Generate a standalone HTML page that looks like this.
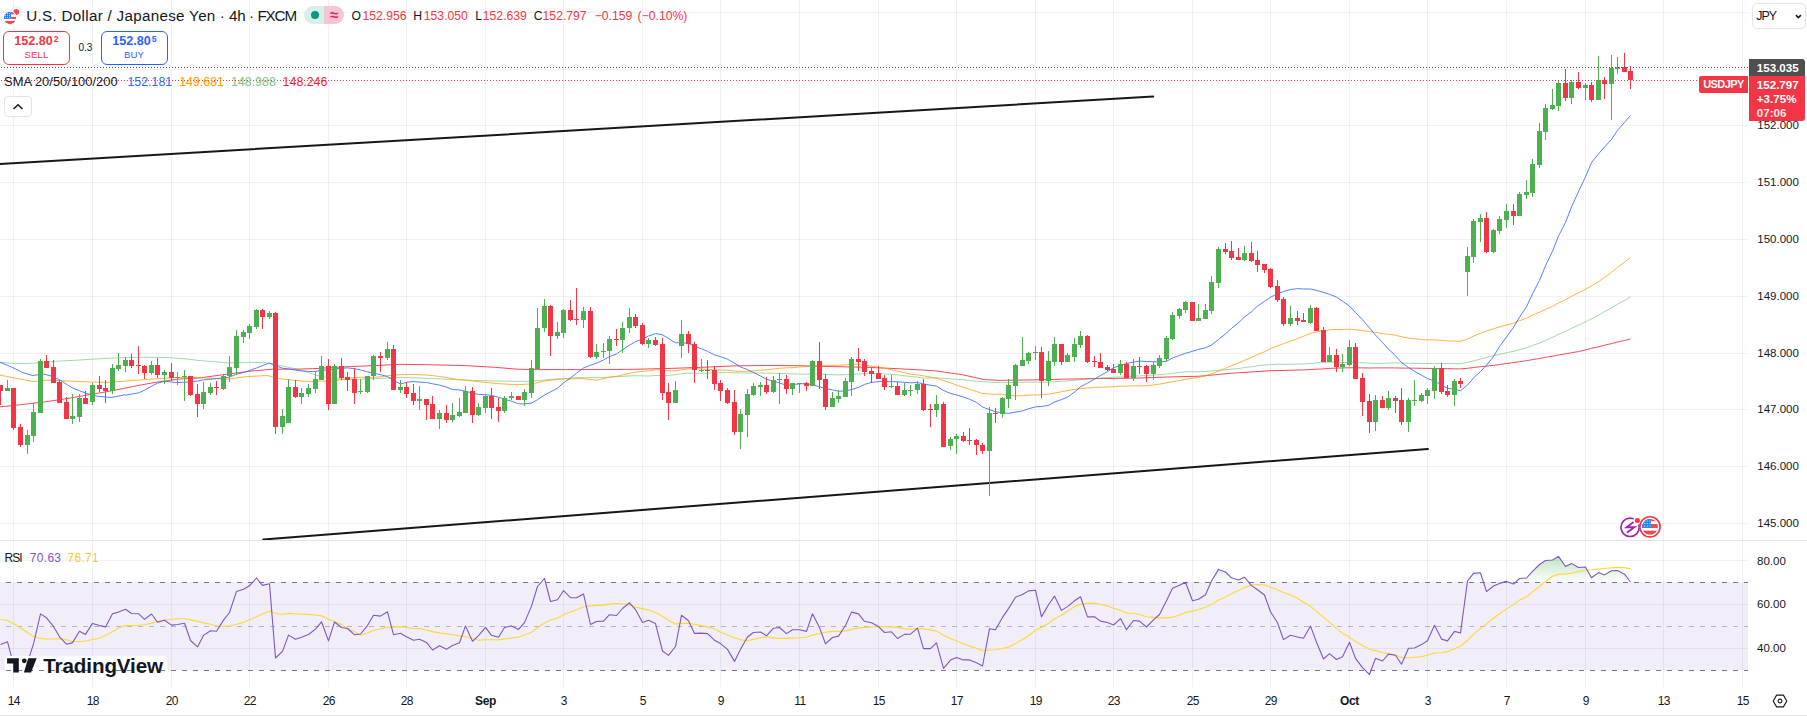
<!DOCTYPE html><html><head><meta charset="utf-8"><style>
*{margin:0;padding:0;box-sizing:border-box}
html,body{width:1807px;height:717px;overflow:hidden;background:#fff}
body{position:relative;font-family:"Liberation Sans",sans-serif;color:#131722}
.a{position:absolute;white-space:nowrap}
svg{position:absolute;left:0;top:0}

</style></head><body>
<svg width="1807" height="717" viewBox="0 0 1807 717">
<g shape-rendering="crispEdges" fill="#2a322e" fill-opacity="0.065">
<rect x="13" y="0" width="1" height="687"/>
<rect x="92" y="0" width="1" height="687"/>
<rect x="171" y="0" width="1" height="687"/>
<rect x="249" y="0" width="1" height="687"/>
<rect x="328" y="0" width="1" height="687"/>
<rect x="406" y="0" width="1" height="687"/>
<rect x="485" y="0" width="1" height="687"/>
<rect x="563" y="0" width="1" height="687"/>
<rect x="642" y="0" width="1" height="687"/>
<rect x="720" y="0" width="1" height="687"/>
<rect x="799" y="0" width="1" height="687"/>
<rect x="878" y="0" width="1" height="687"/>
<rect x="956" y="0" width="1" height="687"/>
<rect x="1035" y="0" width="1" height="687"/>
<rect x="1113" y="0" width="1" height="687"/>
<rect x="1192" y="0" width="1" height="687"/>
<rect x="1270" y="0" width="1" height="687"/>
<rect x="1349" y="0" width="1" height="687"/>
<rect x="1427" y="0" width="1" height="687"/>
<rect x="1506" y="0" width="1" height="687"/>
<rect x="1585" y="0" width="1" height="687"/>
<rect x="1663" y="0" width="1" height="687"/>
<rect x="1742" y="0" width="1" height="687"/>
<rect x="0" y="523" width="1748" height="1"/>
<rect x="0" y="466" width="1748" height="1"/>
<rect x="0" y="409" width="1748" height="1"/>
<rect x="0" y="353" width="1748" height="1"/>
<rect x="0" y="296" width="1748" height="1"/>
<rect x="0" y="239" width="1748" height="1"/>
<rect x="0" y="182" width="1748" height="1"/>
<rect x="0" y="125" width="1748" height="1"/>
<rect x="0" y="69" width="1748" height="1"/>
<rect x="0" y="12" width="1748" height="1"/>
<rect x="0" y="560" width="1748" height="1"/>
<rect x="0" y="604" width="1748" height="1"/>
<rect x="0" y="648" width="1748" height="1"/>
</g>
<rect x="0" y="582" width="1748" height="88" fill="#7e57c2" fill-opacity="0.1"/>
<g shape-rendering="crispEdges"><line x1="0" y1="582.5" x2="1748" y2="582.5" stroke="#787b86" stroke-dasharray="5 6" stroke-dashoffset="-6"/>
<line x1="0" y1="626.5" x2="1748" y2="626.5" stroke="#787b86" stroke-opacity="0.5" stroke-dasharray="5 6" stroke-dashoffset="-6"/>
<line x1="0" y1="670.5" x2="1748" y2="670.5" stroke="#787b86" stroke-dasharray="5 6" stroke-dashoffset="-6"/></g>
<polyline points="0.0,406.9 22.3,404.5 44.6,401.9 67.0,398.6 89.3,394.7 111.6,390.8 133.9,386.3 156.3,382.2 178.6,379.1 200.0,377.9 222.3,374.8 250.2,371.2 272.5,369.2 294.9,369.2 317.2,368.5 345.1,366.8 373.0,365.7 400.0,364.3 433.5,364.8 467.0,365.7 494.9,367.3 517.2,369.2 533.9,369.6 567.4,369.6 600.0,369.6 633.5,369.3 667.0,368.5 700.4,367.4 733.9,365.9 767.4,365.5 800.0,365.7 833.5,366.6 867.0,367.3 900.4,368.8 933.9,370.7 961.8,374.6 984.2,379.6 1000.0,380.4 1033.5,379.9 1067.0,379.1 1100.4,378.5 1133.9,378.2 1167.4,377.0 1200.0,376.2 1230.7,373.3 1269.0,370.8 1303.5,369.9 1310.5,369.5 1316.5,369.2 1323.5,368.9 1329.5,368.4 1336.5,368.1 1342.5,367.9 1349.5,367.8 1355.5,367.8 1362.5,367.9 1369.5,368.0 1375.5,367.9 1382.5,367.9 1388.5,367.9 1395.5,367.9 1401.5,368.1 1408.5,368.1 1414.5,368.2 1421.5,368.3 1427.5,368.4 1434.5,368.5 1441.5,368.6 1447.5,368.7 1454.5,368.8 1460.5,368.9 1467.5,368.3 1473.5,367.5 1480.5,366.7 1486.5,366.1 1493.5,365.4 1499.5,364.5 1506.5,363.5 1513.5,362.6 1519.5,361.7 1526.5,360.7 1532.5,359.6 1539.5,358.5 1545.5,357.3 1552.5,356.2 1558.5,355.0 1565.5,353.9 1571.5,352.7 1578.5,351.6 1585.5,349.9 1591.5,348.3 1598.5,346.8 1604.5,345.2 1611.5,343.6 1617.5,342.0 1624.5,340.5 1630.5,339.0" fill="none" stroke="#f23645" stroke-width="1" stroke-opacity="0.9" stroke-linejoin="round"/><polyline points="0.0,362.3 16.7,363.7 33.5,363.2 55.8,361.2 78.1,360.1 100.4,358.7 122.8,357.6 145.1,357.3 167.4,357.6 184.2,358.7 200.0,360.6 227.9,362.9 250.2,362.3 267.0,362.9 283.7,366.2 300.4,369.9 317.2,375.5 333.9,378.8 356.3,379.3 378.6,378.5 400.0,377.4 433.5,378.5 467.0,380.2 500.4,381.1 528.3,381.3 556.3,379.1 578.6,377.7 600.0,377.7 633.5,375.7 648.5,376.0 655.5,375.5 662.5,375.5 668.5,375.3 675.5,374.7 681.5,373.7 688.5,373.1 694.5,373.2 701.5,373.2 707.5,373.1 714.5,372.9 720.5,372.6 727.5,372.5 734.5,372.8 740.5,372.9 747.5,373.0 753.5,373.0 760.5,372.9 766.5,373.2 773.5,373.3 779.5,373.5 786.5,373.7 792.5,373.9 799.5,374.0 806.5,374.2 812.5,374.1 819.5,374.2 825.5,374.4 832.5,374.7 838.5,374.9 845.5,374.7 851.5,374.3 858.5,374.0 864.5,373.8 871.5,373.7 878.5,373.7 884.5,373.9 891.5,374.4 897.5,375.0 904.5,375.7 910.5,376.5 917.5,377.1 923.5,378.1 930.5,377.9 936.5,377.8 943.5,378.4 950.5,378.8 956.5,379.3 963.5,379.8 969.5,380.4 976.5,381.2 982.5,381.7 989.5,382.1 995.5,382.5 1002.5,382.7 1008.5,382.6 1015.5,382.3 1022.5,382.2 1028.5,382.2 1035.5,382.1 1041.5,382.4 1048.5,382.1 1054.5,381.7 1061.5,381.4 1067.5,380.9 1074.5,380.4 1080.5,379.7 1087.5,379.1 1094.5,378.6 1100.5,378.1 1107.5,377.6 1113.5,377.2 1120.5,377.0 1126.5,376.6 1133.5,376.2 1139.5,375.9 1146.5,375.5 1153.5,375.1 1159.5,374.7 1166.5,374.1 1172.5,373.3 1179.5,372.4 1185.5,371.8 1192.5,371.7 1198.5,371.8 1205.5,371.5 1211.5,371.0 1218.5,370.4 1225.5,369.8 1231.5,369.1 1238.5,368.6 1244.5,367.6 1251.5,366.7 1257.5,365.8 1264.5,365.1 1270.5,364.6 1277.5,364.3 1283.5,364.3 1290.5,364.3 1297.5,364.0 1303.5,363.9 1310.5,363.5 1316.5,362.9 1323.5,362.5 1329.5,362.1 1336.5,362.4 1342.5,362.6 1349.5,362.4 1355.5,362.5 1362.5,362.8 1369.5,363.2 1375.5,363.3 1382.5,363.3 1388.5,363.0 1395.5,362.9 1401.5,363.1 1408.5,363.3 1414.5,363.4 1421.5,363.4 1427.5,363.5 1434.5,363.4 1441.5,363.5 1447.5,363.6 1454.5,363.6 1460.5,363.5 1467.5,362.5 1473.5,360.9 1480.5,359.0 1486.5,357.5 1493.5,355.9 1499.5,354.3 1506.5,352.8 1513.5,351.3 1519.5,349.6 1526.5,347.7 1532.5,345.6 1539.5,343.0 1545.5,340.3 1552.5,337.4 1558.5,334.3 1565.5,331.4 1571.5,328.3 1578.5,325.1 1585.5,321.9 1591.5,318.8 1598.5,315.2 1604.5,311.6 1611.5,307.9 1617.5,304.2 1624.5,300.5 1630.5,296.9" fill="none" stroke="#4caf50" stroke-width="1" stroke-opacity="0.5" stroke-linejoin="round"/><polyline points="0.0,375.1 16.7,378.5 33.5,381.5 46.9,380.2 62.5,380.7 78.1,381.5 94.9,382.1 106.0,382.4 122.8,381.3 145.1,379.6 161.8,378.5 178.6,377.4 200.0,377.7 227.9,379.1 244.6,376.8 267.0,375.5 278.1,378.5 294.9,380.4 309.4,381.5 321.5,381.0 328.5,381.3 334.5,380.8 341.5,379.8 347.5,378.5 354.5,377.7 360.5,377.2 367.5,377.6 373.5,377.3 380.5,376.8 387.5,375.7 393.5,375.2 400.5,374.6 406.5,374.5 413.5,374.4 419.5,374.7 426.5,375.0 432.5,375.6 439.5,376.5 446.5,377.6 452.5,378.7 459.5,379.6 465.5,380.1 472.5,381.0 478.5,381.8 485.5,382.3 491.5,383.0 498.5,383.6 504.5,384.0 511.5,384.5 518.5,384.6 524.5,384.3 531.5,383.9 537.5,382.7 544.5,381.0 550.5,380.2 557.5,379.5 563.5,379.0 570.5,378.8 576.5,378.6 583.5,378.7 590.5,379.5 596.5,380.2 603.5,378.7 609.5,377.2 616.5,376.3 622.5,374.9 629.5,373.4 635.5,372.1 642.5,371.4 648.5,370.9 655.5,369.7 662.5,370.3 668.5,370.8 675.5,371.0 681.5,369.8 688.5,368.9 694.5,368.8 701.5,369.0 707.5,369.3 714.5,370.0 720.5,370.0 727.5,370.3 734.5,371.1 740.5,371.4 747.5,371.3 753.5,370.9 760.5,370.2 766.5,369.8 773.5,369.0 779.5,368.3 786.5,367.8 792.5,367.7 799.5,367.0 806.5,366.6 812.5,365.9 819.5,365.4 825.5,365.3 832.5,365.3 838.5,365.3 845.5,364.9 851.5,364.2 858.5,364.1 864.5,365.0 871.5,366.3 878.5,367.2 884.5,368.2 891.5,369.8 897.5,371.3 904.5,372.7 910.5,374.2 917.5,374.8 923.5,375.9 930.5,377.1 936.5,378.4 943.5,380.5 950.5,382.8 956.5,385.1 963.5,387.4 969.5,389.4 976.5,391.5 982.5,393.6 989.5,394.0 995.5,394.2 1002.5,394.4 1008.5,395.4 1015.5,395.8 1022.5,395.6 1028.5,395.3 1035.5,394.9 1041.5,394.8 1048.5,394.2 1054.5,393.1 1061.5,391.7 1067.5,390.5 1074.5,389.5 1080.5,388.5 1087.5,388.0 1094.5,387.4 1100.5,387.1 1107.5,387.0 1113.5,386.6 1120.5,386.2 1126.5,386.1 1133.5,385.8 1139.5,385.9 1146.5,385.7 1153.5,384.9 1159.5,384.1 1166.5,382.9 1172.5,381.6 1179.5,380.6 1185.5,379.4 1192.5,378.4 1198.5,377.3 1205.5,375.9 1211.5,373.8 1218.5,371.1 1225.5,368.3 1231.5,365.6 1238.5,363.0 1244.5,360.4 1251.5,357.4 1257.5,354.5 1264.5,351.8 1270.5,348.6 1277.5,345.8 1283.5,343.6 1290.5,341.1 1297.5,338.7 1303.5,336.2 1310.5,333.4 1316.5,331.8 1323.5,330.7 1329.5,329.8 1336.5,329.5 1342.5,329.5 1349.5,329.2 1355.5,329.7 1362.5,330.7 1369.5,331.5 1375.5,332.3 1382.5,333.6 1388.5,334.3 1395.5,335.2 1401.5,336.8 1408.5,338.1 1414.5,338.8 1421.5,339.5 1427.5,339.9 1434.5,339.9 1441.5,340.3 1447.5,340.9 1454.5,341.0 1460.5,341.3 1467.5,339.1 1473.5,336.1 1480.5,333.1 1486.5,331.0 1493.5,328.8 1499.5,326.9 1506.5,325.0 1513.5,323.2 1519.5,320.7 1526.5,318.2 1532.5,315.2 1539.5,312.2 1545.5,309.4 1552.5,306.5 1558.5,303.0 1565.5,299.7 1571.5,296.3 1578.5,292.9 1585.5,289.3 1591.5,285.9 1598.5,281.7 1604.5,277.4 1611.5,272.3 1617.5,267.3 1624.5,262.3 1630.5,257.5" fill="none" stroke="#ff9800" stroke-width="1" stroke-opacity="0.75" stroke-linejoin="round"/><polyline points="0.0,362.3 11.2,366.8 22.3,372.4 32.4,375.5 43.5,374.0 50.2,375.7 59.2,379.6 72.5,388.0 87.0,393.6 98.2,396.3 111.6,397.5 125.0,394.7 125.5,395.3 131.5,394.1 138.5,392.9 144.5,390.2 151.5,386.2 157.5,383.2 164.5,381.2 171.5,382.0 177.5,382.5 184.5,382.2 190.5,381.8 197.5,381.0 203.5,379.8 210.5,379.3 216.5,378.5 223.5,378.1 229.5,377.0 236.5,374.3 243.5,372.5 249.5,370.5 256.5,368.0 262.5,365.6 269.5,363.0 275.5,365.7 282.5,368.2 288.5,368.9 295.5,370.1 301.5,370.9 308.5,371.4 315.5,371.6 321.5,370.1 328.5,370.1 334.5,368.8 341.5,368.3 347.5,367.9 354.5,368.7 360.5,369.9 367.5,371.9 373.5,373.1 380.5,374.7 387.5,376.6 393.5,380.3 400.5,384.0 406.5,382.3 413.5,381.5 419.5,382.1 426.5,382.5 432.5,383.8 439.5,385.1 446.5,387.1 452.5,389.5 459.5,390.0 465.5,391.2 472.5,393.1 478.5,394.5 485.5,394.6 491.5,395.5 498.5,397.2 504.5,399.3 511.5,401.2 518.5,403.8 524.5,403.9 531.5,403.0 537.5,399.7 544.5,395.0 550.5,391.9 557.5,388.2 563.5,382.8 570.5,378.1 576.5,373.1 583.5,368.0 590.5,365.2 596.5,363.2 603.5,360.0 609.5,356.6 616.5,353.9 622.5,349.9 629.5,345.2 635.5,341.6 642.5,339.0 648.5,336.0 655.5,333.6 662.5,334.8 668.5,338.5 675.5,342.8 681.5,342.6 688.5,343.3 694.5,346.3 701.5,348.8 707.5,351.3 714.5,354.9 720.5,356.6 727.5,359.2 734.5,363.2 740.5,367.0 747.5,369.6 753.5,372.5 760.5,376.0 766.5,379.3 773.5,381.1 779.5,383.0 786.5,385.2 792.5,384.8 799.5,383.8 806.5,383.6 812.5,384.9 819.5,386.7 825.5,388.5 832.5,389.9 838.5,391.2 845.5,391.0 851.5,389.5 858.5,387.4 864.5,384.4 871.5,382.4 878.5,381.6 884.5,381.6 891.5,381.6 897.5,381.8 904.5,382.3 910.5,382.8 917.5,382.6 923.5,383.9 930.5,385.2 936.5,386.1 943.5,390.5 950.5,393.4 956.5,394.9 963.5,397.0 969.5,399.2 976.5,402.4 982.5,407.0 989.5,409.6 995.5,411.7 1002.5,412.9 1008.5,413.3 1015.5,412.2 1022.5,410.9 1028.5,408.8 1035.5,406.9 1041.5,406.5 1048.5,405.3 1054.5,402.0 1061.5,399.6 1067.5,397.2 1074.5,392.0 1080.5,386.8 1087.5,383.1 1094.5,379.2 1100.5,375.5 1107.5,371.7 1113.5,367.8 1120.5,365.4 1126.5,363.6 1133.5,362.0 1139.5,361.1 1146.5,361.5 1153.5,361.7 1159.5,362.0 1166.5,361.3 1172.5,358.0 1179.5,355.4 1185.5,353.3 1192.5,351.3 1198.5,349.4 1205.5,347.8 1211.5,345.1 1218.5,339.4 1225.5,333.9 1231.5,328.4 1238.5,322.9 1244.5,316.9 1251.5,311.8 1257.5,306.1 1264.5,301.3 1270.5,297.3 1277.5,293.6 1283.5,291.5 1290.5,289.5 1297.5,288.6 1303.5,289.0 1310.5,289.0 1316.5,290.4 1323.5,292.4 1329.5,294.3 1336.5,297.1 1342.5,301.2 1349.5,306.1 1355.5,312.5 1362.5,319.7 1369.5,327.8 1375.5,335.1 1382.5,342.5 1388.5,349.2 1395.5,355.7 1401.5,362.5 1408.5,367.5 1414.5,371.3 1421.5,375.2 1427.5,378.6 1434.5,380.9 1441.5,385.1 1447.5,388.3 1454.5,389.3 1460.5,390.7 1467.5,385.1 1473.5,378.0 1480.5,371.5 1486.5,365.2 1493.5,356.6 1499.5,346.5 1506.5,337.0 1513.5,327.4 1519.5,317.2 1526.5,306.8 1532.5,293.9 1539.5,280.4 1545.5,265.8 1552.5,251.3 1558.5,236.0 1565.5,222.5 1571.5,207.0 1578.5,191.6 1585.5,176.8 1591.5,162.7 1598.5,153.9 1604.5,147.0 1611.5,139.5 1617.5,130.3 1624.5,122.4 1630.5,115.4" fill="none" stroke="#2962ff" stroke-width="1" stroke-opacity="0.8" stroke-linejoin="round"/>
<line x1="-2" y1="164.0" x2="1153.2" y2="96.6" stroke="#171717" stroke-width="2" stroke-linecap="round"/>
<line x1="263.3" y1="539.4" x2="1427.9" y2="448.9" stroke="#171717" stroke-width="2" stroke-linecap="round"/>
<g shape-rendering="crispEdges">
<rect x="0" y="385" width="1" height="20" fill="#f23645"/>
<rect x="-2" y="385" width="5" height="6" fill="#f23645"/>
<rect x="7" y="380" width="1" height="11" fill="#4caf50"/>
<rect x="5" y="388" width="5" height="3" fill="#4caf50"/>
<rect x="13" y="388" width="1" height="42" fill="#f23645"/>
<rect x="11" y="388" width="5" height="40" fill="#f23645"/>
<rect x="20" y="424" width="1" height="23" fill="#f23645"/>
<rect x="18" y="427" width="5" height="18" fill="#f23645"/>
<rect x="27" y="430" width="1" height="24" fill="#4caf50"/>
<rect x="25" y="435" width="5" height="10" fill="#4caf50"/>
<rect x="33" y="403" width="1" height="39" fill="#4caf50"/>
<rect x="31" y="412" width="5" height="24" fill="#4caf50"/>
<rect x="40" y="359" width="1" height="54" fill="#4caf50"/>
<rect x="38" y="361" width="5" height="52" fill="#4caf50"/>
<rect x="46" y="355" width="1" height="13" fill="#f23645"/>
<rect x="44" y="361" width="5" height="7" fill="#f23645"/>
<rect x="53" y="360" width="1" height="23" fill="#f23645"/>
<rect x="51" y="367" width="5" height="16" fill="#f23645"/>
<rect x="59" y="380" width="1" height="23" fill="#f23645"/>
<rect x="57" y="382" width="5" height="21" fill="#f23645"/>
<rect x="66" y="397" width="1" height="22" fill="#f23645"/>
<rect x="64" y="402" width="5" height="17" fill="#f23645"/>
<rect x="72" y="394" width="1" height="30" fill="#4caf50"/>
<rect x="70" y="416" width="5" height="3" fill="#4caf50"/>
<rect x="79" y="394" width="1" height="28" fill="#4caf50"/>
<rect x="77" y="398" width="5" height="19" fill="#4caf50"/>
<rect x="85" y="391" width="1" height="13" fill="#f23645"/>
<rect x="83" y="398" width="5" height="6" fill="#f23645"/>
<rect x="92" y="383" width="1" height="22" fill="#4caf50"/>
<rect x="90" y="385" width="5" height="17" fill="#4caf50"/>
<rect x="99" y="376" width="1" height="16" fill="#f23645"/>
<rect x="97" y="385" width="5" height="4" fill="#f23645"/>
<rect x="105" y="380" width="1" height="23" fill="#f23645"/>
<rect x="103" y="388" width="5" height="3" fill="#f23645"/>
<rect x="112" y="364" width="1" height="30" fill="#4caf50"/>
<rect x="110" y="368" width="5" height="23" fill="#4caf50"/>
<rect x="118" y="353" width="1" height="18" fill="#4caf50"/>
<rect x="116" y="365" width="5" height="4" fill="#4caf50"/>
<rect x="125" y="357" width="1" height="15" fill="#4caf50"/>
<rect x="123" y="360" width="5" height="6" fill="#4caf50"/>
<rect x="131" y="354" width="1" height="14" fill="#f23645"/>
<rect x="129" y="360" width="5" height="6" fill="#f23645"/>
<rect x="138" y="346" width="1" height="28" fill="#f23645"/>
<rect x="136" y="365" width="5" height="1" fill="#f23645"/>
<rect x="144" y="365" width="1" height="14" fill="#f23645"/>
<rect x="142" y="366" width="5" height="7" fill="#f23645"/>
<rect x="151" y="361" width="1" height="14" fill="#4caf50"/>
<rect x="149" y="365" width="5" height="8" fill="#4caf50"/>
<rect x="157" y="358" width="1" height="20" fill="#f23645"/>
<rect x="155" y="365" width="5" height="10" fill="#f23645"/>
<rect x="164" y="370" width="1" height="14" fill="#4caf50"/>
<rect x="162" y="372" width="5" height="3" fill="#4caf50"/>
<rect x="171" y="363" width="1" height="18" fill="#f23645"/>
<rect x="169" y="372" width="5" height="6" fill="#f23645"/>
<rect x="177" y="372" width="1" height="13" fill="#4caf50"/>
<rect x="175" y="377" width="5" height="1" fill="#4caf50"/>
<rect x="184" y="370" width="1" height="31" fill="#4caf50"/>
<rect x="182" y="376" width="5" height="1" fill="#4caf50"/>
<rect x="190" y="376" width="1" height="20" fill="#f23645"/>
<rect x="188" y="376" width="5" height="19" fill="#f23645"/>
<rect x="197" y="384" width="1" height="33" fill="#f23645"/>
<rect x="195" y="394" width="5" height="10" fill="#f23645"/>
<rect x="203" y="382" width="1" height="27" fill="#4caf50"/>
<rect x="201" y="392" width="5" height="12" fill="#4caf50"/>
<rect x="210" y="383" width="1" height="12" fill="#4caf50"/>
<rect x="208" y="387" width="5" height="6" fill="#4caf50"/>
<rect x="216" y="381" width="1" height="14" fill="#f23645"/>
<rect x="214" y="387" width="5" height="1" fill="#f23645"/>
<rect x="223" y="374" width="1" height="16" fill="#4caf50"/>
<rect x="221" y="376" width="5" height="13" fill="#4caf50"/>
<rect x="229" y="356" width="1" height="26" fill="#4caf50"/>
<rect x="227" y="367" width="5" height="9" fill="#4caf50"/>
<rect x="236" y="330" width="1" height="45" fill="#4caf50"/>
<rect x="234" y="336" width="5" height="32" fill="#4caf50"/>
<rect x="243" y="330" width="1" height="13" fill="#4caf50"/>
<rect x="241" y="332" width="5" height="5" fill="#4caf50"/>
<rect x="249" y="324" width="1" height="15" fill="#4caf50"/>
<rect x="247" y="326" width="5" height="7" fill="#4caf50"/>
<rect x="256" y="309" width="1" height="20" fill="#4caf50"/>
<rect x="254" y="310" width="5" height="17" fill="#4caf50"/>
<rect x="262" y="309" width="1" height="20" fill="#f23645"/>
<rect x="260" y="310" width="5" height="7" fill="#f23645"/>
<rect x="269" y="311" width="1" height="8" fill="#4caf50"/>
<rect x="267" y="313" width="5" height="4" fill="#4caf50"/>
<rect x="275" y="312" width="1" height="122" fill="#f23645"/>
<rect x="273" y="313" width="5" height="114" fill="#f23645"/>
<rect x="282" y="409" width="1" height="25" fill="#4caf50"/>
<rect x="280" y="416" width="5" height="11" fill="#4caf50"/>
<rect x="288" y="379" width="1" height="44" fill="#4caf50"/>
<rect x="286" y="387" width="5" height="36" fill="#4caf50"/>
<rect x="295" y="380" width="1" height="18" fill="#f23645"/>
<rect x="293" y="387" width="5" height="10" fill="#f23645"/>
<rect x="301" y="388" width="1" height="16" fill="#4caf50"/>
<rect x="299" y="393" width="5" height="4" fill="#4caf50"/>
<rect x="308" y="384" width="1" height="13" fill="#4caf50"/>
<rect x="306" y="388" width="5" height="6" fill="#4caf50"/>
<rect x="315" y="371" width="1" height="22" fill="#4caf50"/>
<rect x="313" y="379" width="5" height="10" fill="#4caf50"/>
<rect x="321" y="356" width="1" height="24" fill="#4caf50"/>
<rect x="319" y="366" width="5" height="14" fill="#4caf50"/>
<rect x="328" y="359" width="1" height="51" fill="#f23645"/>
<rect x="326" y="366" width="5" height="38" fill="#f23645"/>
<rect x="334" y="364" width="1" height="40" fill="#4caf50"/>
<rect x="332" y="366" width="5" height="38" fill="#4caf50"/>
<rect x="341" y="358" width="1" height="22" fill="#f23645"/>
<rect x="339" y="366" width="5" height="12" fill="#f23645"/>
<rect x="347" y="372" width="1" height="19" fill="#f23645"/>
<rect x="345" y="377" width="5" height="3" fill="#f23645"/>
<rect x="354" y="368" width="1" height="36" fill="#f23645"/>
<rect x="352" y="379" width="5" height="14" fill="#f23645"/>
<rect x="360" y="379" width="1" height="15" fill="#4caf50"/>
<rect x="358" y="391" width="5" height="1" fill="#4caf50"/>
<rect x="367" y="376" width="1" height="17" fill="#4caf50"/>
<rect x="365" y="376" width="5" height="16" fill="#4caf50"/>
<rect x="373" y="355" width="1" height="25" fill="#4caf50"/>
<rect x="371" y="356" width="5" height="20" fill="#4caf50"/>
<rect x="380" y="352" width="1" height="20" fill="#f23645"/>
<rect x="378" y="356" width="5" height="2" fill="#f23645"/>
<rect x="387" y="342" width="1" height="18" fill="#4caf50"/>
<rect x="385" y="349" width="5" height="9" fill="#4caf50"/>
<rect x="393" y="345" width="1" height="45" fill="#f23645"/>
<rect x="391" y="349" width="5" height="41" fill="#f23645"/>
<rect x="400" y="380" width="1" height="13" fill="#4caf50"/>
<rect x="398" y="387" width="5" height="3" fill="#4caf50"/>
<rect x="406" y="382" width="1" height="16" fill="#f23645"/>
<rect x="404" y="387" width="5" height="7" fill="#f23645"/>
<rect x="413" y="384" width="1" height="21" fill="#f23645"/>
<rect x="411" y="393" width="5" height="8" fill="#f23645"/>
<rect x="419" y="386" width="1" height="24" fill="#4caf50"/>
<rect x="417" y="399" width="5" height="2" fill="#4caf50"/>
<rect x="426" y="399" width="1" height="21" fill="#f23645"/>
<rect x="424" y="399" width="5" height="6" fill="#f23645"/>
<rect x="432" y="396" width="1" height="23" fill="#f23645"/>
<rect x="430" y="404" width="5" height="15" fill="#f23645"/>
<rect x="439" y="410" width="1" height="19" fill="#4caf50"/>
<rect x="437" y="413" width="5" height="6" fill="#4caf50"/>
<rect x="446" y="405" width="1" height="18" fill="#f23645"/>
<rect x="444" y="413" width="5" height="7" fill="#f23645"/>
<rect x="452" y="403" width="1" height="19" fill="#4caf50"/>
<rect x="450" y="415" width="5" height="5" fill="#4caf50"/>
<rect x="459" y="398" width="1" height="19" fill="#4caf50"/>
<rect x="457" y="412" width="5" height="4" fill="#4caf50"/>
<rect x="465" y="386" width="1" height="27" fill="#4caf50"/>
<rect x="463" y="391" width="5" height="22" fill="#4caf50"/>
<rect x="472" y="387" width="1" height="36" fill="#f23645"/>
<rect x="470" y="391" width="5" height="24" fill="#f23645"/>
<rect x="478" y="403" width="1" height="13" fill="#4caf50"/>
<rect x="476" y="407" width="5" height="8" fill="#4caf50"/>
<rect x="485" y="395" width="1" height="18" fill="#4caf50"/>
<rect x="483" y="396" width="5" height="12" fill="#4caf50"/>
<rect x="491" y="388" width="1" height="31" fill="#f23645"/>
<rect x="489" y="396" width="5" height="12" fill="#f23645"/>
<rect x="498" y="398" width="1" height="24" fill="#f23645"/>
<rect x="496" y="407" width="5" height="4" fill="#f23645"/>
<rect x="504" y="396" width="1" height="17" fill="#4caf50"/>
<rect x="502" y="398" width="5" height="13" fill="#4caf50"/>
<rect x="511" y="392" width="1" height="8" fill="#4caf50"/>
<rect x="509" y="396" width="5" height="2" fill="#4caf50"/>
<rect x="518" y="396" width="1" height="4" fill="#f23645"/>
<rect x="516" y="396" width="5" height="4" fill="#f23645"/>
<rect x="524" y="389" width="1" height="17" fill="#4caf50"/>
<rect x="522" y="392" width="5" height="8" fill="#4caf50"/>
<rect x="531" y="360" width="1" height="38" fill="#4caf50"/>
<rect x="529" y="368" width="5" height="25" fill="#4caf50"/>
<rect x="537" y="308" width="1" height="61" fill="#4caf50"/>
<rect x="535" y="328" width="5" height="41" fill="#4caf50"/>
<rect x="544" y="299" width="1" height="33" fill="#4caf50"/>
<rect x="542" y="306" width="5" height="22" fill="#4caf50"/>
<rect x="550" y="305" width="1" height="51" fill="#f23645"/>
<rect x="548" y="306" width="5" height="30" fill="#f23645"/>
<rect x="557" y="322" width="1" height="17" fill="#4caf50"/>
<rect x="555" y="332" width="5" height="4" fill="#4caf50"/>
<rect x="563" y="309" width="1" height="29" fill="#4caf50"/>
<rect x="561" y="310" width="5" height="23" fill="#4caf50"/>
<rect x="570" y="300" width="1" height="21" fill="#f23645"/>
<rect x="568" y="310" width="5" height="10" fill="#f23645"/>
<rect x="576" y="288" width="1" height="37" fill="#f23645"/>
<rect x="574" y="319" width="5" height="1" fill="#f23645"/>
<rect x="583" y="307" width="1" height="21" fill="#4caf50"/>
<rect x="581" y="311" width="5" height="9" fill="#4caf50"/>
<rect x="590" y="307" width="1" height="51" fill="#f23645"/>
<rect x="588" y="311" width="5" height="46" fill="#f23645"/>
<rect x="596" y="344" width="1" height="15" fill="#4caf50"/>
<rect x="594" y="352" width="5" height="5" fill="#4caf50"/>
<rect x="603" y="343" width="1" height="15" fill="#4caf50"/>
<rect x="601" y="351" width="5" height="1" fill="#4caf50"/>
<rect x="609" y="336" width="1" height="28" fill="#4caf50"/>
<rect x="607" y="339" width="5" height="12" fill="#4caf50"/>
<rect x="616" y="329" width="1" height="17" fill="#f23645"/>
<rect x="614" y="339" width="5" height="1" fill="#f23645"/>
<rect x="622" y="322" width="1" height="31" fill="#4caf50"/>
<rect x="620" y="328" width="5" height="12" fill="#4caf50"/>
<rect x="629" y="308" width="1" height="25" fill="#4caf50"/>
<rect x="627" y="317" width="5" height="11" fill="#4caf50"/>
<rect x="635" y="314" width="1" height="14" fill="#f23645"/>
<rect x="633" y="317" width="5" height="9" fill="#f23645"/>
<rect x="642" y="323" width="1" height="22" fill="#f23645"/>
<rect x="640" y="325" width="5" height="19" fill="#f23645"/>
<rect x="648" y="338" width="1" height="10" fill="#4caf50"/>
<rect x="646" y="340" width="5" height="4" fill="#4caf50"/>
<rect x="655" y="337" width="1" height="9" fill="#f23645"/>
<rect x="653" y="340" width="5" height="5" fill="#f23645"/>
<rect x="662" y="338" width="1" height="62" fill="#f23645"/>
<rect x="660" y="344" width="5" height="49" fill="#f23645"/>
<rect x="668" y="383" width="1" height="37" fill="#f23645"/>
<rect x="666" y="392" width="5" height="11" fill="#f23645"/>
<rect x="675" y="381" width="1" height="22" fill="#4caf50"/>
<rect x="673" y="390" width="5" height="13" fill="#4caf50"/>
<rect x="681" y="320" width="1" height="38" fill="#4caf50"/>
<rect x="679" y="334" width="5" height="12" fill="#4caf50"/>
<rect x="688" y="331" width="1" height="22" fill="#f23645"/>
<rect x="686" y="334" width="5" height="10" fill="#f23645"/>
<rect x="694" y="342" width="1" height="41" fill="#f23645"/>
<rect x="692" y="344" width="5" height="26" fill="#f23645"/>
<rect x="701" y="359" width="1" height="13" fill="#4caf50"/>
<rect x="699" y="370" width="5" height="1" fill="#4caf50"/>
<rect x="707" y="360" width="1" height="19" fill="#f23645"/>
<rect x="705" y="370" width="5" height="1" fill="#f23645"/>
<rect x="714" y="366" width="1" height="24" fill="#f23645"/>
<rect x="712" y="370" width="5" height="14" fill="#f23645"/>
<rect x="720" y="380" width="1" height="21" fill="#f23645"/>
<rect x="718" y="383" width="5" height="8" fill="#f23645"/>
<rect x="727" y="388" width="1" height="16" fill="#f23645"/>
<rect x="725" y="390" width="5" height="13" fill="#f23645"/>
<rect x="734" y="390" width="1" height="45" fill="#f23645"/>
<rect x="732" y="402" width="5" height="30" fill="#f23645"/>
<rect x="740" y="409" width="1" height="40" fill="#4caf50"/>
<rect x="738" y="414" width="5" height="18" fill="#4caf50"/>
<rect x="747" y="389" width="1" height="48" fill="#4caf50"/>
<rect x="745" y="394" width="5" height="21" fill="#4caf50"/>
<rect x="753" y="383" width="1" height="13" fill="#4caf50"/>
<rect x="751" y="386" width="5" height="9" fill="#4caf50"/>
<rect x="760" y="382" width="1" height="14" fill="#4caf50"/>
<rect x="758" y="385" width="5" height="2" fill="#4caf50"/>
<rect x="766" y="377" width="1" height="17" fill="#f23645"/>
<rect x="764" y="385" width="5" height="7" fill="#f23645"/>
<rect x="773" y="376" width="1" height="17" fill="#4caf50"/>
<rect x="771" y="380" width="5" height="12" fill="#4caf50"/>
<rect x="779" y="373" width="1" height="31" fill="#4caf50"/>
<rect x="777" y="379" width="5" height="1" fill="#4caf50"/>
<rect x="786" y="375" width="1" height="19" fill="#f23645"/>
<rect x="784" y="379" width="5" height="10" fill="#f23645"/>
<rect x="792" y="383" width="1" height="12" fill="#4caf50"/>
<rect x="790" y="383" width="5" height="6" fill="#4caf50"/>
<rect x="799" y="383" width="1" height="10" fill="#4caf50"/>
<rect x="797" y="383" width="5" height="1" fill="#4caf50"/>
<rect x="806" y="382" width="1" height="9" fill="#f23645"/>
<rect x="804" y="383" width="5" height="3" fill="#f23645"/>
<rect x="812" y="360" width="1" height="26" fill="#4caf50"/>
<rect x="810" y="361" width="5" height="25" fill="#4caf50"/>
<rect x="819" y="342" width="1" height="47" fill="#f23645"/>
<rect x="817" y="361" width="5" height="19" fill="#f23645"/>
<rect x="825" y="374" width="1" height="36" fill="#f23645"/>
<rect x="823" y="379" width="5" height="28" fill="#f23645"/>
<rect x="832" y="392" width="1" height="15" fill="#4caf50"/>
<rect x="830" y="398" width="5" height="9" fill="#4caf50"/>
<rect x="838" y="390" width="1" height="13" fill="#4caf50"/>
<rect x="836" y="396" width="5" height="3" fill="#4caf50"/>
<rect x="845" y="378" width="1" height="19" fill="#4caf50"/>
<rect x="843" y="381" width="5" height="16" fill="#4caf50"/>
<rect x="851" y="357" width="1" height="39" fill="#4caf50"/>
<rect x="849" y="359" width="5" height="23" fill="#4caf50"/>
<rect x="858" y="348" width="1" height="23" fill="#f23645"/>
<rect x="856" y="359" width="5" height="3" fill="#f23645"/>
<rect x="864" y="359" width="1" height="17" fill="#f23645"/>
<rect x="862" y="361" width="5" height="11" fill="#f23645"/>
<rect x="871" y="368" width="1" height="15" fill="#f23645"/>
<rect x="869" y="371" width="5" height="3" fill="#f23645"/>
<rect x="878" y="366" width="1" height="13" fill="#f23645"/>
<rect x="876" y="373" width="5" height="6" fill="#f23645"/>
<rect x="884" y="375" width="1" height="15" fill="#f23645"/>
<rect x="882" y="378" width="5" height="9" fill="#f23645"/>
<rect x="891" y="375" width="1" height="13" fill="#4caf50"/>
<rect x="889" y="386" width="5" height="1" fill="#4caf50"/>
<rect x="897" y="382" width="1" height="13" fill="#f23645"/>
<rect x="895" y="386" width="5" height="9" fill="#f23645"/>
<rect x="904" y="383" width="1" height="13" fill="#4caf50"/>
<rect x="902" y="390" width="5" height="5" fill="#4caf50"/>
<rect x="910" y="385" width="1" height="11" fill="#4caf50"/>
<rect x="908" y="390" width="5" height="1" fill="#4caf50"/>
<rect x="917" y="381" width="1" height="13" fill="#4caf50"/>
<rect x="915" y="384" width="5" height="6" fill="#4caf50"/>
<rect x="923" y="379" width="1" height="32" fill="#f23645"/>
<rect x="921" y="384" width="5" height="26" fill="#f23645"/>
<rect x="930" y="404" width="1" height="23" fill="#f23645"/>
<rect x="928" y="409" width="5" height="1" fill="#f23645"/>
<rect x="936" y="395" width="1" height="22" fill="#4caf50"/>
<rect x="934" y="404" width="5" height="6" fill="#4caf50"/>
<rect x="943" y="402" width="1" height="45" fill="#f23645"/>
<rect x="941" y="404" width="5" height="43" fill="#f23645"/>
<rect x="950" y="437" width="1" height="13" fill="#4caf50"/>
<rect x="948" y="439" width="5" height="7" fill="#4caf50"/>
<rect x="956" y="434" width="1" height="20" fill="#4caf50"/>
<rect x="954" y="436" width="5" height="3" fill="#4caf50"/>
<rect x="963" y="432" width="1" height="10" fill="#f23645"/>
<rect x="961" y="436" width="5" height="5" fill="#f23645"/>
<rect x="969" y="428" width="1" height="17" fill="#f23645"/>
<rect x="967" y="440" width="5" height="1" fill="#f23645"/>
<rect x="976" y="439" width="1" height="16" fill="#f23645"/>
<rect x="974" y="440" width="5" height="5" fill="#f23645"/>
<rect x="982" y="443" width="1" height="11" fill="#f23645"/>
<rect x="980" y="445" width="5" height="6" fill="#f23645"/>
<rect x="989" y="407" width="1" height="89" fill="#4caf50"/>
<rect x="987" y="413" width="5" height="38" fill="#4caf50"/>
<rect x="995" y="408" width="1" height="15" fill="#f23645"/>
<rect x="993" y="413" width="5" height="1" fill="#f23645"/>
<rect x="1002" y="397" width="1" height="21" fill="#4caf50"/>
<rect x="1000" y="398" width="5" height="16" fill="#4caf50"/>
<rect x="1008" y="379" width="1" height="29" fill="#4caf50"/>
<rect x="1006" y="385" width="5" height="14" fill="#4caf50"/>
<rect x="1015" y="364" width="1" height="36" fill="#4caf50"/>
<rect x="1013" y="365" width="5" height="21" fill="#4caf50"/>
<rect x="1022" y="337" width="1" height="29" fill="#4caf50"/>
<rect x="1020" y="360" width="5" height="6" fill="#4caf50"/>
<rect x="1028" y="352" width="1" height="12" fill="#4caf50"/>
<rect x="1026" y="353" width="5" height="8" fill="#4caf50"/>
<rect x="1035" y="346" width="1" height="14" fill="#4caf50"/>
<rect x="1033" y="352" width="5" height="1" fill="#4caf50"/>
<rect x="1041" y="347" width="1" height="51" fill="#f23645"/>
<rect x="1039" y="352" width="5" height="29" fill="#f23645"/>
<rect x="1048" y="351" width="1" height="35" fill="#4caf50"/>
<rect x="1046" y="361" width="5" height="20" fill="#4caf50"/>
<rect x="1054" y="337" width="1" height="29" fill="#4caf50"/>
<rect x="1052" y="344" width="5" height="18" fill="#4caf50"/>
<rect x="1061" y="344" width="1" height="21" fill="#f23645"/>
<rect x="1059" y="344" width="5" height="18" fill="#f23645"/>
<rect x="1067" y="353" width="1" height="9" fill="#4caf50"/>
<rect x="1065" y="355" width="5" height="7" fill="#4caf50"/>
<rect x="1074" y="338" width="1" height="24" fill="#4caf50"/>
<rect x="1072" y="344" width="5" height="13" fill="#4caf50"/>
<rect x="1080" y="331" width="1" height="17" fill="#4caf50"/>
<rect x="1078" y="336" width="5" height="9" fill="#4caf50"/>
<rect x="1087" y="335" width="1" height="28" fill="#f23645"/>
<rect x="1085" y="336" width="5" height="26" fill="#f23645"/>
<rect x="1094" y="356" width="1" height="11" fill="#f23645"/>
<rect x="1092" y="361" width="5" height="1" fill="#f23645"/>
<rect x="1100" y="353" width="1" height="15" fill="#f23645"/>
<rect x="1098" y="362" width="5" height="6" fill="#f23645"/>
<rect x="1107" y="365" width="1" height="6" fill="#f23645"/>
<rect x="1105" y="367" width="5" height="3" fill="#f23645"/>
<rect x="1113" y="364" width="1" height="9" fill="#f23645"/>
<rect x="1111" y="369" width="5" height="4" fill="#f23645"/>
<rect x="1120" y="360" width="1" height="15" fill="#4caf50"/>
<rect x="1118" y="364" width="5" height="9" fill="#4caf50"/>
<rect x="1126" y="362" width="1" height="16" fill="#f23645"/>
<rect x="1124" y="364" width="5" height="14" fill="#f23645"/>
<rect x="1133" y="359" width="1" height="22" fill="#4caf50"/>
<rect x="1131" y="366" width="5" height="12" fill="#4caf50"/>
<rect x="1139" y="357" width="1" height="17" fill="#f23645"/>
<rect x="1137" y="366" width="5" height="1" fill="#f23645"/>
<rect x="1146" y="365" width="1" height="17" fill="#f23645"/>
<rect x="1144" y="366" width="5" height="8" fill="#f23645"/>
<rect x="1153" y="362" width="1" height="18" fill="#4caf50"/>
<rect x="1151" y="365" width="5" height="9" fill="#4caf50"/>
<rect x="1159" y="355" width="1" height="13" fill="#4caf50"/>
<rect x="1157" y="358" width="5" height="8" fill="#4caf50"/>
<rect x="1166" y="336" width="1" height="26" fill="#4caf50"/>
<rect x="1164" y="338" width="5" height="21" fill="#4caf50"/>
<rect x="1172" y="312" width="1" height="28" fill="#4caf50"/>
<rect x="1170" y="315" width="5" height="24" fill="#4caf50"/>
<rect x="1179" y="308" width="1" height="11" fill="#4caf50"/>
<rect x="1177" y="309" width="5" height="7" fill="#4caf50"/>
<rect x="1185" y="301" width="1" height="12" fill="#4caf50"/>
<rect x="1183" y="302" width="5" height="8" fill="#4caf50"/>
<rect x="1192" y="302" width="1" height="19" fill="#f23645"/>
<rect x="1190" y="302" width="5" height="19" fill="#f23645"/>
<rect x="1198" y="304" width="1" height="17" fill="#4caf50"/>
<rect x="1196" y="318" width="5" height="3" fill="#4caf50"/>
<rect x="1205" y="304" width="1" height="15" fill="#4caf50"/>
<rect x="1203" y="310" width="5" height="9" fill="#4caf50"/>
<rect x="1211" y="276" width="1" height="38" fill="#4caf50"/>
<rect x="1209" y="282" width="5" height="29" fill="#4caf50"/>
<rect x="1218" y="247" width="1" height="41" fill="#4caf50"/>
<rect x="1216" y="249" width="5" height="34" fill="#4caf50"/>
<rect x="1225" y="243" width="1" height="11" fill="#f23645"/>
<rect x="1223" y="249" width="5" height="3" fill="#f23645"/>
<rect x="1231" y="241" width="1" height="19" fill="#f23645"/>
<rect x="1229" y="251" width="5" height="7" fill="#f23645"/>
<rect x="1238" y="248" width="1" height="12" fill="#f23645"/>
<rect x="1236" y="257" width="5" height="3" fill="#f23645"/>
<rect x="1244" y="246" width="1" height="15" fill="#4caf50"/>
<rect x="1242" y="253" width="5" height="7" fill="#4caf50"/>
<rect x="1251" y="242" width="1" height="20" fill="#f23645"/>
<rect x="1249" y="253" width="5" height="8" fill="#f23645"/>
<rect x="1257" y="251" width="1" height="21" fill="#f23645"/>
<rect x="1255" y="260" width="5" height="5" fill="#f23645"/>
<rect x="1264" y="264" width="1" height="9" fill="#f23645"/>
<rect x="1262" y="264" width="5" height="6" fill="#f23645"/>
<rect x="1270" y="268" width="1" height="20" fill="#f23645"/>
<rect x="1268" y="269" width="5" height="18" fill="#f23645"/>
<rect x="1277" y="280" width="1" height="22" fill="#f23645"/>
<rect x="1275" y="286" width="5" height="14" fill="#f23645"/>
<rect x="1283" y="297" width="1" height="29" fill="#f23645"/>
<rect x="1281" y="299" width="5" height="25" fill="#f23645"/>
<rect x="1290" y="306" width="1" height="20" fill="#4caf50"/>
<rect x="1288" y="318" width="5" height="6" fill="#4caf50"/>
<rect x="1297" y="311" width="1" height="14" fill="#f23645"/>
<rect x="1295" y="318" width="5" height="3" fill="#f23645"/>
<rect x="1303" y="313" width="1" height="9" fill="#f23645"/>
<rect x="1301" y="320" width="5" height="2" fill="#f23645"/>
<rect x="1310" y="305" width="1" height="19" fill="#4caf50"/>
<rect x="1308" y="308" width="5" height="15" fill="#4caf50"/>
<rect x="1316" y="307" width="1" height="24" fill="#f23645"/>
<rect x="1314" y="308" width="5" height="23" fill="#f23645"/>
<rect x="1323" y="327" width="1" height="35" fill="#f23645"/>
<rect x="1321" y="330" width="5" height="32" fill="#f23645"/>
<rect x="1329" y="347" width="1" height="15" fill="#4caf50"/>
<rect x="1327" y="355" width="5" height="7" fill="#4caf50"/>
<rect x="1336" y="349" width="1" height="23" fill="#f23645"/>
<rect x="1334" y="355" width="5" height="12" fill="#f23645"/>
<rect x="1342" y="354" width="1" height="18" fill="#4caf50"/>
<rect x="1340" y="364" width="5" height="3" fill="#4caf50"/>
<rect x="1349" y="340" width="1" height="26" fill="#4caf50"/>
<rect x="1347" y="347" width="5" height="18" fill="#4caf50"/>
<rect x="1355" y="343" width="1" height="36" fill="#f23645"/>
<rect x="1353" y="347" width="5" height="32" fill="#f23645"/>
<rect x="1362" y="373" width="1" height="43" fill="#f23645"/>
<rect x="1360" y="378" width="5" height="24" fill="#f23645"/>
<rect x="1369" y="394" width="1" height="39" fill="#f23645"/>
<rect x="1367" y="401" width="5" height="21" fill="#f23645"/>
<rect x="1375" y="395" width="1" height="36" fill="#4caf50"/>
<rect x="1373" y="400" width="5" height="22" fill="#4caf50"/>
<rect x="1382" y="396" width="1" height="12" fill="#f23645"/>
<rect x="1380" y="400" width="5" height="8" fill="#f23645"/>
<rect x="1388" y="391" width="1" height="19" fill="#4caf50"/>
<rect x="1386" y="398" width="5" height="10" fill="#4caf50"/>
<rect x="1395" y="396" width="1" height="17" fill="#f23645"/>
<rect x="1393" y="398" width="5" height="3" fill="#f23645"/>
<rect x="1401" y="388" width="1" height="37" fill="#f23645"/>
<rect x="1399" y="400" width="5" height="22" fill="#f23645"/>
<rect x="1408" y="398" width="1" height="34" fill="#4caf50"/>
<rect x="1406" y="400" width="5" height="22" fill="#4caf50"/>
<rect x="1414" y="380" width="1" height="26" fill="#4caf50"/>
<rect x="1412" y="400" width="5" height="1" fill="#4caf50"/>
<rect x="1421" y="393" width="1" height="9" fill="#4caf50"/>
<rect x="1419" y="395" width="5" height="6" fill="#4caf50"/>
<rect x="1427" y="388" width="1" height="16" fill="#4caf50"/>
<rect x="1425" y="390" width="5" height="6" fill="#4caf50"/>
<rect x="1434" y="366" width="1" height="33" fill="#4caf50"/>
<rect x="1432" y="368" width="5" height="23" fill="#4caf50"/>
<rect x="1441" y="363" width="1" height="31" fill="#f23645"/>
<rect x="1439" y="368" width="5" height="24" fill="#f23645"/>
<rect x="1447" y="385" width="1" height="12" fill="#f23645"/>
<rect x="1445" y="391" width="5" height="4" fill="#f23645"/>
<rect x="1454" y="379" width="1" height="27" fill="#4caf50"/>
<rect x="1452" y="381" width="5" height="14" fill="#4caf50"/>
<rect x="1460" y="378" width="1" height="10" fill="#f23645"/>
<rect x="1458" y="381" width="5" height="3" fill="#f23645"/>
<rect x="1467" y="247" width="1" height="49" fill="#4caf50"/>
<rect x="1465" y="256" width="5" height="16" fill="#4caf50"/>
<rect x="1473" y="219" width="1" height="44" fill="#4caf50"/>
<rect x="1471" y="221" width="5" height="36" fill="#4caf50"/>
<rect x="1480" y="214" width="1" height="28" fill="#4caf50"/>
<rect x="1478" y="218" width="5" height="4" fill="#4caf50"/>
<rect x="1486" y="212" width="1" height="41" fill="#f23645"/>
<rect x="1484" y="218" width="5" height="34" fill="#f23645"/>
<rect x="1493" y="229" width="1" height="24" fill="#4caf50"/>
<rect x="1491" y="230" width="5" height="22" fill="#4caf50"/>
<rect x="1499" y="216" width="1" height="18" fill="#4caf50"/>
<rect x="1497" y="219" width="5" height="12" fill="#4caf50"/>
<rect x="1506" y="204" width="1" height="24" fill="#4caf50"/>
<rect x="1504" y="211" width="5" height="9" fill="#4caf50"/>
<rect x="1513" y="204" width="1" height="21" fill="#f23645"/>
<rect x="1511" y="211" width="5" height="5" fill="#f23645"/>
<rect x="1519" y="192" width="1" height="24" fill="#4caf50"/>
<rect x="1517" y="194" width="5" height="22" fill="#4caf50"/>
<rect x="1526" y="180" width="1" height="19" fill="#4caf50"/>
<rect x="1524" y="192" width="5" height="3" fill="#4caf50"/>
<rect x="1532" y="159" width="1" height="38" fill="#4caf50"/>
<rect x="1530" y="164" width="5" height="29" fill="#4caf50"/>
<rect x="1539" y="123" width="1" height="45" fill="#4caf50"/>
<rect x="1537" y="131" width="5" height="34" fill="#4caf50"/>
<rect x="1545" y="104" width="1" height="36" fill="#4caf50"/>
<rect x="1543" y="108" width="5" height="24" fill="#4caf50"/>
<rect x="1552" y="89" width="1" height="21" fill="#4caf50"/>
<rect x="1550" y="105" width="5" height="4" fill="#4caf50"/>
<rect x="1558" y="80" width="1" height="31" fill="#4caf50"/>
<rect x="1556" y="83" width="5" height="23" fill="#4caf50"/>
<rect x="1565" y="69" width="1" height="32" fill="#f23645"/>
<rect x="1563" y="83" width="5" height="15" fill="#f23645"/>
<rect x="1571" y="80" width="1" height="24" fill="#4caf50"/>
<rect x="1569" y="82" width="5" height="16" fill="#4caf50"/>
<rect x="1578" y="72" width="1" height="17" fill="#f23645"/>
<rect x="1576" y="82" width="5" height="6" fill="#f23645"/>
<rect x="1585" y="83" width="1" height="17" fill="#4caf50"/>
<rect x="1583" y="85" width="5" height="3" fill="#4caf50"/>
<rect x="1591" y="82" width="1" height="20" fill="#f23645"/>
<rect x="1589" y="85" width="5" height="15" fill="#f23645"/>
<rect x="1598" y="56" width="1" height="44" fill="#4caf50"/>
<rect x="1596" y="80" width="5" height="20" fill="#4caf50"/>
<rect x="1604" y="77" width="1" height="22" fill="#f23645"/>
<rect x="1602" y="80" width="5" height="4" fill="#f23645"/>
<rect x="1611" y="55" width="1" height="65" fill="#4caf50"/>
<rect x="1609" y="68" width="5" height="16" fill="#4caf50"/>
<rect x="1617" y="57" width="1" height="17" fill="#4caf50"/>
<rect x="1615" y="67" width="5" height="2" fill="#4caf50"/>
<rect x="1624" y="53" width="1" height="19" fill="#f23645"/>
<rect x="1622" y="67" width="5" height="5" fill="#f23645"/>
<rect x="1630" y="66" width="1" height="23" fill="#f23645"/>
<rect x="1628" y="71" width="5" height="9" fill="#f23645"/>
</g>
<g shape-rendering="crispEdges">
<line x1="0" y1="67.5" x2="1748" y2="67.5" stroke="#555" stroke-width="1" stroke-dasharray="1 2" stroke-dashoffset="2"/>
<line x1="0" y1="80.5" x2="1698" y2="80.5" stroke="#f23645" stroke-width="1" stroke-dasharray="1 2" stroke-dashoffset="2"/>
</g>
<defs><linearGradient id="gf" gradientUnits="userSpaceOnUse" x1="0" y1="516.5" x2="0" y2="582.5"><stop offset="0" stop-color="#4caf50" stop-opacity="0.9"/><stop offset="1" stop-color="#4caf50" stop-opacity="0"/></linearGradient>
<clipPath id="ab"><rect x="0" y="541" width="1748" height="41.5"/></clipPath>
<clipPath id="rp"><rect x="0" y="541" width="1748" height="145"/></clipPath></defs>
<path d="M0.5,644.4 L7.5,641.7 L13.5,664.7 L20.5,669.2 L27.5,662.7 L33.5,643.9 L40.5,613.9 L46.5,617.8 L53.5,626.4 L59.5,636.8 L66.5,644.2 L72.5,642.6 L79.5,631.2 L85.5,634.4 L92.5,623.4 L99.5,625.6 L105.5,626.9 L112.5,613.8 L118.5,612.1 L125.5,609.3 L131.5,613.5 L138.5,613.7 L144.5,619.4 L151.5,614.0 L157.5,622.2 L164.5,620.2 L171.5,625.1 L177.5,624.5 L184.5,623.3 L190.5,640.5 L197.5,646.9 L203.5,635.4 L210.5,630.8 L216.5,631.3 L223.5,620.1 L229.5,612.5 L236.5,591.4 L243.5,589.2 L249.5,585.8 L256.5,578.0 L262.5,585.4 L269.5,583.7 L275.5,658.0 L282.5,651.4 L288.5,635.1 L295.5,639.2 L301.5,637.2 L308.5,634.5 L315.5,629.1 L321.5,621.8 L328.5,640.9 L334.5,622.0 L341.5,627.5 L347.5,628.5 L354.5,634.8 L360.5,634.0 L367.5,625.6 L373.5,615.2 L380.5,616.1 L387.5,611.8 L393.5,634.7 L400.5,633.3 L406.5,636.7 L413.5,640.3 L419.5,639.2 L426.5,642.4 L432.5,650.0 L439.5,645.7 L446.5,649.3 L452.5,645.5 L459.5,642.8 L465.5,625.9 L472.5,641.3 L478.5,635.6 L485.5,627.4 L491.5,635.3 L498.5,637.2 L504.5,627.5 L511.5,625.9 L518.5,629.4 L524.5,622.6 L531.5,606.1 L537.5,586.5 L544.5,578.5 L550.5,601.5 L557.5,599.7 L563.5,590.7 L570.5,597.7 L576.5,597.7 L583.5,593.9 L590.5,624.5 L596.5,621.5 L603.5,621.1 L609.5,614.7 L616.5,615.5 L622.5,608.5 L629.5,602.8 L635.5,609.6 L642.5,622.5 L648.5,620.2 L655.5,623.6 L662.5,651.0 L668.5,655.4 L675.5,646.5 L681.5,615.3 L688.5,620.8 L694.5,633.4 L701.5,633.1 L707.5,633.6 L714.5,640.2 L720.5,643.6 L727.5,649.4 L734.5,661.4 L740.5,649.2 L747.5,637.0 L753.5,632.5 L760.5,632.0 L766.5,635.8 L773.5,628.2 L779.5,627.5 L786.5,633.6 L792.5,629.7 L799.5,629.7 L806.5,631.4 L812.5,613.7 L819.5,627.6 L825.5,643.8 L832.5,637.5 L838.5,636.1 L845.5,625.5 L851.5,612.1 L858.5,613.9 L864.5,621.3 L871.5,622.7 L878.5,626.6 L884.5,632.5 L891.5,631.8 L897.5,638.5 L904.5,634.4 L910.5,634.2 L917.5,628.2 L923.5,648.6 L930.5,648.6 L936.5,642.8 L943.5,668.4 L950.5,660.1 L956.5,657.4 L963.5,659.9 L969.5,659.9 L976.5,662.7 L982.5,666.0 L989.5,628.8 L995.5,629.8 L1002.5,617.4 L1008.5,608.6 L1015.5,597.2 L1022.5,594.5 L1028.5,590.9 L1035.5,590.2 L1041.5,616.9 L1048.5,604.8 L1054.5,596.1 L1061.5,610.4 L1067.5,606.6 L1074.5,600.8 L1080.5,596.8 L1087.5,616.9 L1094.5,616.7 L1100.5,621.1 L1107.5,622.5 L1113.5,625.0 L1120.5,618.6 L1126.5,629.7 L1133.5,620.5 L1139.5,621.1 L1146.5,627.0 L1153.5,619.9 L1159.5,614.5 L1166.5,600.7 L1172.5,588.3 L1179.5,585.3 L1185.5,582.2 L1192.5,600.7 L1198.5,599.3 L1205.5,594.7 L1211.5,581.0 L1218.5,569.4 L1225.5,572.0 L1231.5,577.8 L1238.5,580.0 L1244.5,577.2 L1251.5,585.6 L1257.5,589.7 L1264.5,595.0 L1270.5,611.8 L1277.5,622.8 L1283.5,639.6 L1290.5,635.3 L1297.5,637.0 L1303.5,638.3 L1310.5,626.1 L1316.5,642.2 L1323.5,659.0 L1329.5,653.7 L1336.5,659.5 L1342.5,656.7 L1349.5,642.2 L1355.5,658.4 L1362.5,667.6 L1369.5,674.5 L1375.5,658.2 L1382.5,661.0 L1388.5,654.1 L1395.5,655.2 L1401.5,664.2 L1408.5,648.3 L1414.5,648.0 L1421.5,644.6 L1427.5,640.7 L1434.5,625.3 L1441.5,639.1 L1447.5,640.9 L1454.5,631.4 L1460.5,633.0 L1467.5,581.0 L1473.5,573.4 L1480.5,572.8 L1486.5,591.6 L1493.5,586.0 L1499.5,583.4 L1506.5,581.4 L1513.5,584.1 L1519.5,578.5 L1526.5,578.0 L1532.5,571.3 L1539.5,564.5 L1545.5,560.5 L1552.5,560.0 L1558.5,556.4 L1565.5,566.5 L1571.5,563.4 L1578.5,567.5 L1585.5,567.0 L1591.5,577.8 L1598.5,572.6 L1604.5,574.9 L1611.5,570.7 L1617.5,570.5 L1624.5,574.2 L1630.5,582.0 L1630.5,582.5 L0.5,582.5 Z" fill="url(#gf)" clip-path="url(#ab)"/>
<g clip-path="url(#rp)">
<polyline points="0.5,619.5 7.5,620.5 13.5,623.5 20.5,628.0 27.5,632.5 33.5,636.5 40.5,638.5 46.5,639.0 53.5,639.0 59.5,638.8 66.5,639.8 72.5,641.5 79.5,641.5 85.5,641.0 92.5,639.5 99.5,638.3 105.5,635.6 112.5,631.7 118.5,628.1 125.5,625.6 131.5,625.6 138.5,625.3 144.5,624.8 151.5,623.2 157.5,621.6 164.5,620.0 171.5,619.5 177.5,618.8 184.5,618.8 190.5,619.9 197.5,621.3 203.5,622.9 210.5,624.2 216.5,625.8 223.5,626.2 229.5,626.2 236.5,624.2 243.5,622.4 249.5,619.8 256.5,616.8 262.5,613.9 269.5,611.0 275.5,613.5 282.5,614.3 288.5,613.4 295.5,613.7 301.5,614.2 308.5,614.4 315.5,615.0 321.5,615.7 328.5,619.2 334.5,621.6 341.5,624.6 347.5,628.2 354.5,631.7 360.5,635.3 367.5,633.0 373.5,630.4 380.5,629.0 387.5,627.1 393.5,626.9 400.5,626.8 406.5,627.3 413.5,628.7 419.5,628.5 426.5,630.0 432.5,631.6 439.5,632.9 446.5,633.9 452.5,634.7 459.5,635.9 465.5,636.7 472.5,638.5 478.5,640.2 485.5,639.7 491.5,639.8 498.5,639.9 504.5,638.9 511.5,638.0 518.5,637.1 524.5,635.1 531.5,632.3 537.5,627.8 544.5,623.0 550.5,620.0 557.5,618.2 563.5,614.6 570.5,611.9 576.5,609.7 583.5,606.8 590.5,605.9 596.5,605.4 603.5,605.1 609.5,604.1 616.5,603.5 622.5,603.7 629.5,604.9 635.5,607.1 642.5,608.6 648.5,610.1 655.5,612.4 662.5,616.2 668.5,620.3 675.5,624.1 681.5,623.4 688.5,623.4 694.5,624.3 701.5,625.6 707.5,626.9 714.5,629.1 720.5,632.1 727.5,634.9 734.5,637.7 740.5,639.7 747.5,640.7 753.5,639.4 760.5,637.7 766.5,637.0 773.5,637.9 779.5,638.4 786.5,638.4 792.5,638.1 799.5,637.8 806.5,637.2 812.5,635.1 819.5,633.5 825.5,632.3 832.5,631.4 838.5,631.4 845.5,630.9 851.5,629.4 858.5,627.9 864.5,627.4 871.5,627.0 878.5,626.5 884.5,626.7 891.5,626.9 897.5,627.4 904.5,628.9 910.5,629.3 917.5,628.2 923.5,629.0 930.5,629.9 936.5,631.1 943.5,635.2 950.5,638.5 956.5,641.0 963.5,643.7 969.5,646.1 976.5,648.2 982.5,650.7 989.5,650.0 995.5,649.7 1002.5,648.5 1008.5,647.1 1015.5,643.4 1022.5,639.5 1028.5,635.8 1035.5,630.2 1041.5,627.2 1048.5,623.4 1054.5,618.8 1061.5,615.3 1067.5,611.3 1074.5,606.6 1080.5,604.4 1087.5,603.4 1094.5,603.4 1100.5,604.3 1107.5,606.1 1113.5,608.3 1120.5,610.2 1126.5,613.1 1133.5,613.3 1139.5,614.5 1146.5,616.7 1153.5,617.4 1159.5,617.9 1166.5,617.9 1172.5,617.3 1179.5,615.1 1185.5,612.6 1192.5,611.1 1198.5,609.5 1205.5,607.3 1211.5,604.6 1218.5,600.3 1225.5,596.9 1231.5,593.8 1238.5,590.4 1244.5,587.4 1251.5,585.3 1257.5,584.5 1264.5,585.0 1270.5,586.9 1277.5,589.8 1283.5,592.6 1290.5,595.1 1297.5,598.2 1303.5,602.3 1310.5,606.3 1316.5,611.3 1323.5,617.1 1329.5,622.4 1336.5,628.3 1342.5,633.3 1349.5,637.1 1355.5,641.6 1362.5,645.6 1369.5,649.3 1375.5,650.6 1382.5,652.5 1388.5,653.7 1395.5,654.9 1401.5,657.6 1408.5,658.0 1414.5,657.3 1421.5,656.6 1427.5,655.3 1434.5,653.0 1441.5,652.8 1447.5,651.6 1454.5,649.0 1460.5,646.0 1467.5,640.5 1473.5,634.2 1480.5,628.4 1486.5,623.9 1493.5,618.3 1499.5,613.7 1506.5,608.9 1513.5,604.6 1519.5,600.1 1526.5,596.8 1532.5,591.9 1539.5,586.5 1545.5,581.4 1552.5,576.2 1558.5,574.4 1565.5,573.9 1571.5,573.3 1578.5,571.5 1585.5,570.2 1591.5,569.8 1598.5,569.1 1604.5,568.5 1611.5,567.9 1617.5,567.4 1624.5,567.6 1630.5,568.9" fill="none" stroke="#fdd835" stroke-width="1.1" stroke-opacity="1" stroke-linejoin="round"/>
<polyline points="0.5,644.4 7.5,641.7 13.5,664.7 20.5,669.2 27.5,662.7 33.5,643.9 40.5,613.9 46.5,617.8 53.5,626.4 59.5,636.8 66.5,644.2 72.5,642.6 79.5,631.2 85.5,634.4 92.5,623.4 99.5,625.6 105.5,626.9 112.5,613.8 118.5,612.1 125.5,609.3 131.5,613.5 138.5,613.7 144.5,619.4 151.5,614.0 157.5,622.2 164.5,620.2 171.5,625.1 177.5,624.5 184.5,623.3 190.5,640.5 197.5,646.9 203.5,635.4 210.5,630.8 216.5,631.3 223.5,620.1 229.5,612.5 236.5,591.4 243.5,589.2 249.5,585.8 256.5,578.0 262.5,585.4 269.5,583.7 275.5,658.0 282.5,651.4 288.5,635.1 295.5,639.2 301.5,637.2 308.5,634.5 315.5,629.1 321.5,621.8 328.5,640.9 334.5,622.0 341.5,627.5 347.5,628.5 354.5,634.8 360.5,634.0 367.5,625.6 373.5,615.2 380.5,616.1 387.5,611.8 393.5,634.7 400.5,633.3 406.5,636.7 413.5,640.3 419.5,639.2 426.5,642.4 432.5,650.0 439.5,645.7 446.5,649.3 452.5,645.5 459.5,642.8 465.5,625.9 472.5,641.3 478.5,635.6 485.5,627.4 491.5,635.3 498.5,637.2 504.5,627.5 511.5,625.9 518.5,629.4 524.5,622.6 531.5,606.1 537.5,586.5 544.5,578.5 550.5,601.5 557.5,599.7 563.5,590.7 570.5,597.7 576.5,597.7 583.5,593.9 590.5,624.5 596.5,621.5 603.5,621.1 609.5,614.7 616.5,615.5 622.5,608.5 629.5,602.8 635.5,609.6 642.5,622.5 648.5,620.2 655.5,623.6 662.5,651.0 668.5,655.4 675.5,646.5 681.5,615.3 688.5,620.8 694.5,633.4 701.5,633.1 707.5,633.6 714.5,640.2 720.5,643.6 727.5,649.4 734.5,661.4 740.5,649.2 747.5,637.0 753.5,632.5 760.5,632.0 766.5,635.8 773.5,628.2 779.5,627.5 786.5,633.6 792.5,629.7 799.5,629.7 806.5,631.4 812.5,613.7 819.5,627.6 825.5,643.8 832.5,637.5 838.5,636.1 845.5,625.5 851.5,612.1 858.5,613.9 864.5,621.3 871.5,622.7 878.5,626.6 884.5,632.5 891.5,631.8 897.5,638.5 904.5,634.4 910.5,634.2 917.5,628.2 923.5,648.6 930.5,648.6 936.5,642.8 943.5,668.4 950.5,660.1 956.5,657.4 963.5,659.9 969.5,659.9 976.5,662.7 982.5,666.0 989.5,628.8 995.5,629.8 1002.5,617.4 1008.5,608.6 1015.5,597.2 1022.5,594.5 1028.5,590.9 1035.5,590.2 1041.5,616.9 1048.5,604.8 1054.5,596.1 1061.5,610.4 1067.5,606.6 1074.5,600.8 1080.5,596.8 1087.5,616.9 1094.5,616.7 1100.5,621.1 1107.5,622.5 1113.5,625.0 1120.5,618.6 1126.5,629.7 1133.5,620.5 1139.5,621.1 1146.5,627.0 1153.5,619.9 1159.5,614.5 1166.5,600.7 1172.5,588.3 1179.5,585.3 1185.5,582.2 1192.5,600.7 1198.5,599.3 1205.5,594.7 1211.5,581.0 1218.5,569.4 1225.5,572.0 1231.5,577.8 1238.5,580.0 1244.5,577.2 1251.5,585.6 1257.5,589.7 1264.5,595.0 1270.5,611.8 1277.5,622.8 1283.5,639.6 1290.5,635.3 1297.5,637.0 1303.5,638.3 1310.5,626.1 1316.5,642.2 1323.5,659.0 1329.5,653.7 1336.5,659.5 1342.5,656.7 1349.5,642.2 1355.5,658.4 1362.5,667.6 1369.5,674.5 1375.5,658.2 1382.5,661.0 1388.5,654.1 1395.5,655.2 1401.5,664.2 1408.5,648.3 1414.5,648.0 1421.5,644.6 1427.5,640.7 1434.5,625.3 1441.5,639.1 1447.5,640.9 1454.5,631.4 1460.5,633.0 1467.5,581.0 1473.5,573.4 1480.5,572.8 1486.5,591.6 1493.5,586.0 1499.5,583.4 1506.5,581.4 1513.5,584.1 1519.5,578.5 1526.5,578.0 1532.5,571.3 1539.5,564.5 1545.5,560.5 1552.5,560.0 1558.5,556.4 1565.5,566.5 1571.5,563.4 1578.5,567.5 1585.5,567.0 1591.5,577.8 1598.5,572.6 1604.5,574.9 1611.5,570.7 1617.5,570.5 1624.5,574.2 1630.5,582.0" fill="none" stroke="#7e57c2" stroke-width="1.1" stroke-opacity="1" stroke-linejoin="round"/>
</g>
<rect x="0" y="540" width="1807" height="1" fill="#e0e3eb" shape-rendering="crispEdges"/>
<rect x="0" y="715" width="1807" height="1" fill="#e4e5e8" shape-rendering="crispEdges"/>
</svg>
<svg width="30" height="30" style="left:0;top:0" viewBox="0 0 30 30">
<circle cx="15.9" cy="12.2" r="5.3" fill="#fff" stroke="#e8ecf4" stroke-width="1.3"/>
<circle cx="16.3" cy="12.0" r="2.9" fill="#f0475a"/>
<circle cx="10" cy="18" r="6.9" fill="#fff"/>
<clipPath id="fl"><circle cx="10" cy="18" r="6.15"/></clipPath>
<g clip-path="url(#fl)"><rect x="3" y="11" width="15" height="15" fill="#fff"/>
<rect x="10.9" y="11.5" width="7" height="2.8" fill="#f04848"/>
<rect x="10.9" y="16.9" width="7" height="2.0" fill="#f04848"/>
<rect x="3" y="20.9" width="15" height="4" fill="#f04848"/>
<rect x="3" y="11.5" width="7.9" height="7.4" fill="#2b7fe3"/>
<g fill="#fff" opacity="0.9"><circle cx="5.5" cy="13.4" r="0.5"/><circle cx="7.5" cy="13.4" r="0.5"/><circle cx="9.5" cy="13.4" r="0.5"/>
<circle cx="5.5" cy="15.4" r="0.5"/><circle cx="7.5" cy="15.4" r="0.5"/><circle cx="9.5" cy="15.4" r="0.5"/>
<circle cx="5.5" cy="17.3" r="0.5"/><circle cx="7.5" cy="17.3" r="0.5"/><circle cx="9.5" cy="17.3" r="0.5"/></g></g>
</svg>
<div class="a" style="left:26.3px;top:8.33px;font-size:15.2px;line-height:15.2px;color:#131722;font-weight:normal;letter-spacing:0.3px">U.S. Dollar / Japanese Yen</div>
<div class="a" style="left:219.8px;top:8.33px;font-size:15.2px;line-height:15.2px;color:#131722;font-weight:normal;">·</div>
<div class="a" style="left:228.9px;top:8.33px;font-size:15.2px;line-height:15.2px;color:#131722;font-weight:normal;">4h</div>
<div class="a" style="left:248.9px;top:8.33px;font-size:15.2px;line-height:15.2px;color:#131722;font-weight:normal;">·</div>
<div class="a" style="left:257.4px;top:8.33px;font-size:15.2px;line-height:15.2px;color:#131722;font-weight:normal;letter-spacing:-1.1px">FXCM</div>
<div class="a" style="left:304px;top:6px;width:40px;height:18px;border-radius:9px;overflow:hidden;"><div class="a" style="left:0;top:0;width:20px;height:18px;background:#d8f0ea"></div><div class="a" style="left:20px;top:0;width:20px;height:18px;background:#f6c5d8"></div><div class="a" style="left:7px;top:5px;width:8px;height:8px;border-radius:4px;background:#089981"></div><div class="a" style="left:23px;top:0px;width:14px;height:18px;line-height:18px;text-align:center;font-size:15px;color:#e91e63;font-weight:bold">≈</div></div>
<div class="a" style="left:351.5px;top:9.87px;font-size:12.2px;line-height:12.2px;color:#131722;font-weight:normal;">O</div>
<div class="a" style="left:362.5px;top:9.87px;font-size:12.2px;line-height:12.2px;color:#f23645;font-weight:normal;">152.956</div>
<div class="a" style="left:413.3px;top:9.87px;font-size:12.2px;line-height:12.2px;color:#131722;font-weight:normal;">H</div>
<div class="a" style="left:423.8px;top:9.87px;font-size:12.2px;line-height:12.2px;color:#f23645;font-weight:normal;">153.050</div>
<div class="a" style="left:475.3px;top:9.87px;font-size:12.2px;line-height:12.2px;color:#131722;font-weight:normal;">L</div>
<div class="a" style="left:482.8px;top:9.87px;font-size:12.2px;line-height:12.2px;color:#f23645;font-weight:normal;">152.639</div>
<div class="a" style="left:533.8px;top:9.87px;font-size:12.2px;line-height:12.2px;color:#131722;font-weight:normal;">C</div>
<div class="a" style="left:542.6px;top:9.87px;font-size:12.2px;line-height:12.2px;color:#f23645;font-weight:normal;">152.797</div>
<div class="a" style="left:594.7px;top:9.87px;font-size:12.2px;line-height:12.2px;color:#f23645;font-weight:normal;">−0.159</div>
<div class="a" style="left:637.6px;top:9.87px;font-size:12.2px;line-height:12.2px;color:#f23645;font-weight:normal;">(−0.10%)</div>
<div class="a" style="left:3px;top:31px;width:67px;height:34px;border:1px solid #f23645;border-radius:6px;background:#fff"></div>
<div class="a" style="left:101px;top:31px;width:67px;height:34px;border:1px solid #2962ff;border-radius:6px;background:#fff"></div>
<div class="a" style="left:14.3px;top:34.73px;font-size:12.6px;line-height:12.6px;color:#f23645;font-weight:bold;">152.80</div>
<div class="a" style="left:53.7px;top:35.32px;font-size:8.6px;line-height:8.6px;color:#f23645;font-weight:bold;">2</div>
<div class="a" style="left:24.6px;top:50.39px;font-size:9.7px;line-height:9.7px;color:#f23645;font-weight:normal;">SELL</div>
<div class="a" style="left:78.5px;top:43.33px;font-size:10px;line-height:10px;color:#131722;font-weight:normal;">0.3</div>
<div class="a" style="left:112.3px;top:34.73px;font-size:12.6px;line-height:12.6px;color:#2962ff;font-weight:bold;">152.80</div>
<div class="a" style="left:151.7px;top:35.32px;font-size:8.6px;line-height:8.6px;color:#2962ff;font-weight:bold;">5</div>
<div class="a" style="left:124.0px;top:50.39px;font-size:9.7px;line-height:9.7px;color:#2962ff;font-weight:normal;">BUY</div>
<div class="a" style="left:4.0px;top:75.84px;font-size:12.95px;line-height:12.95px;color:#131722;font-weight:normal;">SMA 20/50/100/200</div>
<div class="a" style="left:127.4px;top:76.30px;font-size:12.4px;line-height:12.4px;color:#2f6af5;font-weight:normal;">152.181</div>
<div class="a" style="left:179.2px;top:76.30px;font-size:12.4px;line-height:12.4px;color:#ff9800;font-weight:normal;">149.681</div>
<div class="a" style="left:231.0px;top:76.30px;font-size:12.4px;line-height:12.4px;color:#7cc47f;font-weight:normal;">148.988</div>
<div class="a" style="left:282.6px;top:76.30px;font-size:12.4px;line-height:12.4px;color:#fa1e28;font-weight:normal;">148.246</div>
<div class="a" style="left:4px;top:96px;width:28px;height:21px;border:1px solid #e0e3eb;border-radius:4px;background:#fff"></div>
<svg width="12" height="8" style="left:12px;top:103px" viewBox="0 0 12 8"><path d="M1.5 6 L6 1.8 L10.5 6" fill="none" stroke="#131722" stroke-width="1.5"/></svg>
<div class="a" style="left:4.5px;top:552.04px;font-size:12px;line-height:12px;color:#131722;font-weight:normal;letter-spacing:-0.9px">RSI</div>
<div class="a" style="left:29.8px;top:552.04px;font-size:12px;line-height:12px;color:#7e57c2;font-weight:normal;letter-spacing:0.3px">70.63</div>
<div class="a" style="left:67.6px;top:552.04px;font-size:12px;line-height:12px;color:#f9c82a;font-weight:normal;letter-spacing:0.25px">76.71</div>
<div class="a" style="left:1757.3px;top:518.47px;font-size:11.5px;line-height:11.5px;color:#131722;font-weight:normal;">145.000</div>
<div class="a" style="left:1757.3px;top:461.47px;font-size:11.5px;line-height:11.5px;color:#131722;font-weight:normal;">146.000</div>
<div class="a" style="left:1757.3px;top:404.47px;font-size:11.5px;line-height:11.5px;color:#131722;font-weight:normal;">147.000</div>
<div class="a" style="left:1757.3px;top:348.47px;font-size:11.5px;line-height:11.5px;color:#131722;font-weight:normal;">148.000</div>
<div class="a" style="left:1757.3px;top:291.47px;font-size:11.5px;line-height:11.5px;color:#131722;font-weight:normal;">149.000</div>
<div class="a" style="left:1757.3px;top:234.47px;font-size:11.5px;line-height:11.5px;color:#131722;font-weight:normal;">150.000</div>
<div class="a" style="left:1757.3px;top:177.47px;font-size:11.5px;line-height:11.5px;color:#131722;font-weight:normal;">151.000</div>
<div class="a" style="left:1757.3px;top:120.47px;font-size:11.5px;line-height:11.5px;color:#131722;font-weight:normal;">152.000</div>
<div class="a" style="left:1757.0px;top:555.67px;font-size:11.5px;line-height:11.5px;color:#131722;font-weight:normal;">80.00</div>
<div class="a" style="left:1757.0px;top:599.47px;font-size:11.5px;line-height:11.5px;color:#131722;font-weight:normal;">60.00</div>
<div class="a" style="left:1757.0px;top:643.47px;font-size:11.5px;line-height:11.5px;color:#131722;font-weight:normal;">40.00</div>
<div class="a" style="left:1749px;top:59px;width:56px;height:17px;background:#4f4f4f;border-radius:0 3px 0 0"></div>
<div class="a" style="left:1749px;top:76px;width:56px;height:45px;background:#f23645;border-radius:0 0 3px 0"></div>
<div class="a" style="left:1699px;top:76px;width:49px;height:17px;background:#f23645;border-radius:2px 0 0 2px"></div>
<div class="a" style="left:1756.8px;top:61.88px;font-size:11.6px;line-height:11.6px;color:#fff;font-weight:bold;">153.035</div>
<div class="a" style="left:1756.8px;top:78.98px;font-size:11.6px;line-height:11.6px;color:#fff;font-weight:bold;">152.797</div>
<div class="a" style="left:1756.8px;top:93.18px;font-size:11.6px;line-height:11.6px;color:#fff;font-weight:bold;">+3.75%</div>
<div class="a" style="left:1756.8px;top:106.78px;font-size:11.6px;line-height:11.6px;color:#fde3e6;font-weight:bold;">07:06</div>
<div class="a" style="left:1703.2px;top:79.29px;font-size:11px;line-height:11px;color:#fff;font-weight:bold;letter-spacing:-0.55px">USDJPY</div>
<div class="a" style="left:1752px;top:3px;width:54px;height:26px;border:1px solid #e4e5e7;border-radius:5px;background:#fff"></div>
<div class="a" style="left:1756.2px;top:9.50px;font-size:12.4px;line-height:12.4px;color:#131722;font-weight:normal;letter-spacing:-0.9px">JPY</div>
<svg width="8" height="6" style="left:1795px;top:14px" viewBox="0 0 8 6"><path d="M0.9 1.2 L3.4 3.6 L5.9 1.2" fill="none" stroke="#131722" stroke-width="1.6"/></svg>
<div class="a" style="left:-16.5px;width:60px;text-align:center;top:694.84px;font-size:12px;line-height:12px;font-weight:normal;letter-spacing:-0.7px;text-indent:0.7px">14</div>
<div class="a" style="left:62.5px;width:60px;text-align:center;top:694.84px;font-size:12px;line-height:12px;font-weight:normal;letter-spacing:-0.7px;text-indent:0.7px">18</div>
<div class="a" style="left:141.5px;width:60px;text-align:center;top:694.84px;font-size:12px;line-height:12px;font-weight:normal;letter-spacing:-0.7px;text-indent:0.7px">20</div>
<div class="a" style="left:219.5px;width:60px;text-align:center;top:694.84px;font-size:12px;line-height:12px;font-weight:normal;letter-spacing:-0.7px;text-indent:0.7px">22</div>
<div class="a" style="left:298.5px;width:60px;text-align:center;top:694.84px;font-size:12px;line-height:12px;font-weight:normal;letter-spacing:-0.7px;text-indent:0.7px">26</div>
<div class="a" style="left:376.5px;width:60px;text-align:center;top:694.84px;font-size:12px;line-height:12px;font-weight:normal;letter-spacing:-0.7px;text-indent:0.7px">28</div>
<div class="a" style="left:455.5px;width:60px;text-align:center;top:694.84px;font-size:12px;line-height:12px;font-weight:bold;letter-spacing:-0.3px;text-indent:0px">Sep</div>
<div class="a" style="left:533.5px;width:60px;text-align:center;top:694.84px;font-size:12px;line-height:12px;font-weight:normal;letter-spacing:-0.7px;text-indent:0.7px">3</div>
<div class="a" style="left:612.5px;width:60px;text-align:center;top:694.84px;font-size:12px;line-height:12px;font-weight:normal;letter-spacing:-0.7px;text-indent:0.7px">5</div>
<div class="a" style="left:690.5px;width:60px;text-align:center;top:694.84px;font-size:12px;line-height:12px;font-weight:normal;letter-spacing:-0.7px;text-indent:0.7px">9</div>
<div class="a" style="left:769.5px;width:60px;text-align:center;top:694.84px;font-size:12px;line-height:12px;font-weight:normal;letter-spacing:-0.7px;text-indent:0.7px">11</div>
<div class="a" style="left:848.5px;width:60px;text-align:center;top:694.84px;font-size:12px;line-height:12px;font-weight:normal;letter-spacing:-0.7px;text-indent:0.7px">15</div>
<div class="a" style="left:926.5px;width:60px;text-align:center;top:694.84px;font-size:12px;line-height:12px;font-weight:normal;letter-spacing:-0.7px;text-indent:0.7px">17</div>
<div class="a" style="left:1005.5px;width:60px;text-align:center;top:694.84px;font-size:12px;line-height:12px;font-weight:normal;letter-spacing:-0.7px;text-indent:0.7px">19</div>
<div class="a" style="left:1083.5px;width:60px;text-align:center;top:694.84px;font-size:12px;line-height:12px;font-weight:normal;letter-spacing:-0.7px;text-indent:0.7px">23</div>
<div class="a" style="left:1162.5px;width:60px;text-align:center;top:694.84px;font-size:12px;line-height:12px;font-weight:normal;letter-spacing:-0.7px;text-indent:0.7px">25</div>
<div class="a" style="left:1240.5px;width:60px;text-align:center;top:694.84px;font-size:12px;line-height:12px;font-weight:normal;letter-spacing:-0.7px;text-indent:0.7px">29</div>
<div class="a" style="left:1319.5px;width:60px;text-align:center;top:694.84px;font-size:12px;line-height:12px;font-weight:bold;letter-spacing:-0.3px;text-indent:0px">Oct</div>
<div class="a" style="left:1397.5px;width:60px;text-align:center;top:694.84px;font-size:12px;line-height:12px;font-weight:normal;letter-spacing:-0.7px;text-indent:0.7px">3</div>
<div class="a" style="left:1476.5px;width:60px;text-align:center;top:694.84px;font-size:12px;line-height:12px;font-weight:normal;letter-spacing:-0.7px;text-indent:0.7px">7</div>
<div class="a" style="left:1555.5px;width:60px;text-align:center;top:694.84px;font-size:12px;line-height:12px;font-weight:normal;letter-spacing:-0.7px;text-indent:0.7px">9</div>
<div class="a" style="left:1633.5px;width:60px;text-align:center;top:694.84px;font-size:12px;line-height:12px;font-weight:normal;letter-spacing:-0.7px;text-indent:0.7px">13</div>
<div class="a" style="left:1712.5px;width:60px;text-align:center;top:694.84px;font-size:12px;line-height:12px;font-weight:normal;letter-spacing:-0.7px;text-indent:0.7px">15</div>
<svg width="20" height="20" style="left:1769.5px;top:691.4px" viewBox="0 0 20 20"><path d="M6.6 4.15 H13.4 L16.8 10 L13.4 15.85 H6.6 L3.2 10 Z" fill="none" stroke="#131722" stroke-width="1.1" stroke-linejoin="round"/><circle cx="10" cy="10" r="1.9" fill="none" stroke="#131722" stroke-width="1.1"/></svg>
<svg width="46" height="28" style="left:1618px;top:514px" viewBox="0 0 46 28">
<circle cx="12.1" cy="13.3" r="9.2" fill="#fff" stroke="#9c27b0" stroke-width="1.7"/>
<circle cx="19.4" cy="6.6" r="4.2" fill="#fff"/>
<circle cx="19.4" cy="6.6" r="2.5" fill="#f23645"/>
<path d="M14.9 8.6 L8.7 13.3 L16.3 13.3 L9.6 18.3" fill="none" stroke="#9c27b0" stroke-width="1.9" stroke-linejoin="miter" stroke-linecap="round"/>
<circle cx="32" cy="12.8" r="10.1" fill="#fff" stroke="#f23645" stroke-width="1.6"/>
<clipPath id="fl2"><circle cx="32" cy="12.8" r="7.9"/></clipPath>
<g clip-path="url(#fl2)">
<rect x="23" y="4" width="18" height="3.2" fill="#f0494f"/>
<rect x="23" y="10.0" width="18" height="4.0" fill="#f0494f"/>
<rect x="23" y="16.7" width="18" height="5" fill="#f0494f"/>
<rect x="23" y="4" width="10" height="10" fill="#2b88e8"/>
<g fill="#fff" opacity="0.85"><circle cx="26.5" cy="7" r="0.6"/><circle cx="29.3" cy="7" r="0.6"/><circle cx="32" cy="7" r="0.6"/>
<circle cx="26.5" cy="9.5" r="0.6"/><circle cx="29.3" cy="9.5" r="0.6"/><circle cx="32" cy="9.5" r="0.6"/>
<circle cx="26.5" cy="12" r="0.6"/><circle cx="29.3" cy="12" r="0.6"/><circle cx="32" cy="12" r="0.6"/></g>
</g>
</svg>
<div class="a" style="left:5px;top:656px;width:162px;height:14px;background:#fff;border-radius:3px 3px 0 0"></div>
<svg width="40" height="22" style="left:4px;top:655px" viewBox="0 0 40 22">
<g fill="#131722"><path d="M3.1 3.3 H14.8 V17.6 H9.2 V8.6 H3.1 Z"/><circle cx="20.3" cy="5.8" r="2.4"/><path d="M24.2 3.3 H32.7 L27 17.6 H19.9 Z"/></g>
</svg>
<svg width="140" height="30" style="left:40px;top:650px" viewBox="0 0 140 30"><text x="3.2" y="22.8" font-family="Liberation Sans" font-weight="bold" font-size="20.6" letter-spacing="-0.1" fill="#131722">TradingView</text></svg>
</body></html>
